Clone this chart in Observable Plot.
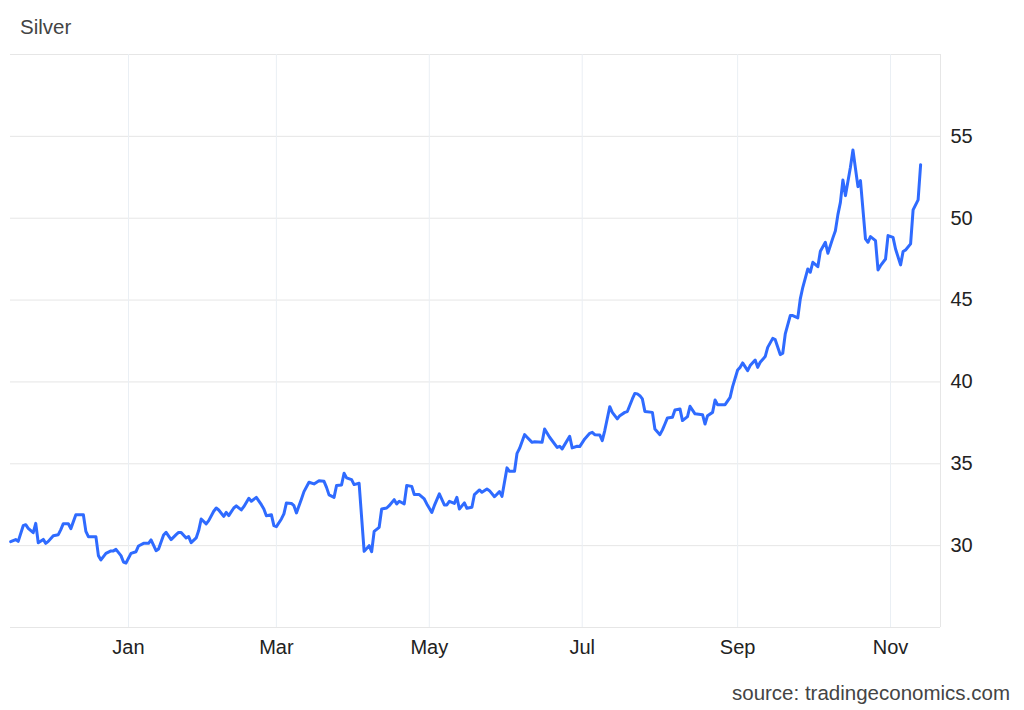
<!DOCTYPE html>
<html>
<head>
<meta charset="utf-8">
<script src="https://cdn.jsdelivr.net/npm/d3@7"></script>
<script src="https://cdn.jsdelivr.net/npm/@observablehq/plot@0.6"></script>
<style>
  html, body { margin: 0; padding: 0; background: #fff; }
  #wrap { position: relative; width: 1024px; height: 710px; font-family: "Liberation Sans", Arial, sans-serif; }
  #title { position: absolute; left: 20px; top: 15px; font-size: 20.5px; color: #444; }
  #plot { position: absolute; left: 0; top: 44px; }
  #source { position: absolute; right: 14px; top: 681px; font-size: 20.5px; color: #444; }
</style>
</head>
<body>
<div id="wrap">
  <div id="title">Silver</div>
  <div id="plot"></div>
  <div id="source">source: tradingeconomics.com</div>
</div>
<script>
const dates = [
"2024-11-15","2024-11-17","2024-11-18","2024-11-20","2024-11-21","2024-11-22","2024-11-24","2024-11-25","2024-11-26","2024-11-28","2024-11-29","2024-11-30",
"2024-12-02","2024-12-04","2024-12-05","2024-12-06","2024-12-08","2024-12-09","2024-12-11","2024-12-14","2024-12-15","2024-12-16","2024-12-19","2024-12-20","2024-12-21","2024-12-23","2024-12-25","2024-12-26","2024-12-27","2024-12-29","2024-12-30","2024-12-31",
"2025-01-02","2025-01-04","2025-01-05","2025-01-07","2025-01-09","2025-01-10","2025-01-12","2025-01-13","2025-01-15","2025-01-16","2025-01-18","2025-01-20","2025-01-21","2025-01-22","2025-01-24","2025-01-25","2025-01-26","2025-01-28","2025-01-29","2025-01-30",
"2025-02-01","2025-02-02","2025-02-04","2025-02-05","2025-02-06","2025-02-08","2025-02-09","2025-02-10","2025-02-12","2025-02-13","2025-02-15","2025-02-16","2025-02-18","2025-02-19","2025-02-21","2025-02-23","2025-02-24","2025-02-25","2025-02-27","2025-02-28",
"2025-03-01","2025-03-03","2025-03-04","2025-03-05","2025-03-07","2025-03-08","2025-03-09","2025-03-11","2025-03-12","2025-03-14","2025-03-16","2025-03-18","2025-03-20","2025-03-21","2025-03-22","2025-03-24","2025-03-25","2025-03-27","2025-03-28","2025-03-29","2025-03-31",
"2025-04-01","2025-04-03","2025-04-05","2025-04-07","2025-04-08","2025-04-09","2025-04-11","2025-04-12","2025-04-14","2025-04-15","2025-04-17","2025-04-18","2025-04-19","2025-04-21","2025-04-22","2025-04-24","2025-04-25","2025-04-27","2025-04-29","2025-04-30",
"2025-05-02","2025-05-03","2025-05-05","2025-05-07","2025-05-08","2025-05-09","2025-05-11","2025-05-12","2025-05-13","2025-05-15","2025-05-16","2025-05-18","2025-05-19","2025-05-21","2025-05-22","2025-05-24","2025-05-25","2025-05-27","2025-05-29","2025-05-30",
"2025-06-01","2025-06-02","2025-06-04","2025-06-05","2025-06-06","2025-06-08","2025-06-09","2025-06-11","2025-06-12","2025-06-15","2025-06-16","2025-06-18","2025-06-21","2025-06-22","2025-06-23","2025-06-26","2025-06-27","2025-06-29","2025-06-30",
"2025-07-02","2025-07-04","2025-07-05","2025-07-06","2025-07-08","2025-07-09","2025-07-10","2025-07-12","2025-07-13","2025-07-15","2025-07-16","2025-07-18","2025-07-19","2025-07-21","2025-07-22","2025-07-23","2025-07-24","2025-07-25","2025-07-26","2025-07-29","2025-07-30",
"2025-08-01","2025-08-02","2025-08-03","2025-08-04","2025-08-06","2025-08-07","2025-08-09","2025-08-10","2025-08-12","2025-08-13","2025-08-15","2025-08-18","2025-08-19","2025-08-20","2025-08-22","2025-08-23","2025-08-24","2025-08-27","2025-08-29","2025-08-30",
"2025-09-01","2025-09-02","2025-09-03","2025-09-05","2025-09-06","2025-09-08","2025-09-09","2025-09-10","2025-09-12","2025-09-13","2025-09-15","2025-09-16","2025-09-18","2025-09-19","2025-09-20","2025-09-22","2025-09-23","2025-09-25","2025-09-26","2025-09-27","2025-09-29","2025-09-30",
"2025-10-01","2025-10-03","2025-10-04","2025-10-06","2025-10-07","2025-10-09","2025-10-10","2025-10-11","2025-10-12","2025-10-13","2025-10-14","2025-10-16","2025-10-17","2025-10-19","2025-10-20","2025-10-22","2025-10-23","2025-10-24","2025-10-26","2025-10-27","2025-10-28","2025-10-30","2025-10-31",
"2025-11-02","2025-11-03","2025-11-05","2025-11-06","2025-11-07","2025-11-09","2025-11-10","2025-11-12","2025-11-13"
];
const prices = [
30.24,30.37,30.26,31.22,31.28,31.06,30.79,31.36,30.18,30.38,30.14,30.26,
30.61,30.67,30.98,31.34,31.34,31.04,31.89,31.89,30.87,30.55,30.55,29.39,29.13,29.53,29.68,29.68,29.77,29.39,29.00,28.94,
29.53,29.63,29.98,30.14,30.14,30.35,29.69,29.80,30.65,30.81,30.37,30.67,30.81,30.81,30.47,30.55,30.18,30.47,30.92,31.63,
31.33,31.53,32.10,32.30,32.18,31.79,32.03,31.83,32.30,32.43,32.18,32.38,32.89,32.71,32.95,32.50,32.24,31.83,31.89,31.22,
31.16,31.63,31.94,32.61,32.58,32.44,32.00,32.85,33.30,33.87,33.77,33.97,33.93,33.56,33.10,32.95,33.67,33.71,34.42,34.14,34.03,
33.73,33.81,29.65,30.00,29.63,30.87,31.12,32.24,32.30,32.44,32.81,32.55,32.71,32.55,33.67,33.62,33.12,33.12,32.85,32.55,
32.03,32.44,33.16,32.49,32.49,32.71,32.58,32.95,32.24,32.61,32.28,32.34,33.12,33.40,33.26,33.46,33.36,32.99,33.30,33.01,
34.75,34.54,34.54,35.64,35.94,36.78,36.62,36.31,36.35,36.31,37.13,36.62,36.00,36.07,35.91,36.68,35.97,36.07,36.05,
36.52,36.86,36.92,36.78,36.76,36.41,37.03,38.49,38.14,37.74,37.94,38.14,38.19,38.96,39.30,39.27,39.16,38.96,38.20,38.14,37.13,
36.78,37.07,37.43,37.80,37.84,38.29,38.35,37.64,37.88,38.51,38.05,38.00,37.43,37.94,38.14,38.90,38.61,38.61,39.06,39.71,
40.73,40.89,41.16,40.69,41.00,41.34,40.89,41.20,41.55,42.11,42.66,42.58,41.67,41.75,42.93,44.05,44.05,43.91,45.07,45.78,46.90,46.70,
47.31,47.04,47.98,48.53,47.86,48.80,49.24,50.22,50.97,52.34,51.38,53.11,54.17,51.93,52.30,48.74,48.53,48.88,48.63,46.84,47.10,47.51,48.94,
48.83,48.12,47.15,47.96,48.06,48.43,50.51,51.12,53.27
];
const xTickDates = ["2025-01-01","2025-03-01","2025-05-01","2025-07-01","2025-09-01","2025-11-01"];
const yTickLabels = [30, 35, 40, 45, 50, 55];
const yGridValues = [25, 30, 35, 40, 45, 50, 55, 60];

const data = dates.map((d, i) => ({date: new Date(d), price: prices[i]}));
const xTicks = xTickDates.map(d => new Date(d));
const xStart = new Date("2024-11-14T22:19:00Z");
const xEnd = new Date("2025-11-20T22:19:00Z");

const chart = Plot.plot({
  width: 1024,
  height: 620,
  marginTop: 10,
  marginBottom: 37,
  marginLeft: 10,
  marginRight: 84,
  style: {fontFamily: "'Liberation Sans', Arial, sans-serif", fontSize: "20px", color: "#222", background: "#fff", overflow: "visible"},
  x: {type: "utc", domain: [xStart, xEnd]},
  y: {domain: [25, 60]},
  marks: [
    Plot.ruleY(yGridValues, {stroke: "#e6e6e6", strokeWidth: 1}),
    Plot.ruleX(xTicks, {stroke: "#eaeff4", strokeWidth: 1}),
    Plot.ruleX([xEnd], {stroke: "#e6e6e6", strokeWidth: 1}),
    Plot.axisY(yTickLabels, {anchor: "right", tickSize: 0, tickPadding: 10, label: null, fill: "#222"}),
    Plot.axisX(xTicks, {anchor: "bottom", tickSize: 0, tickPadding: 12, tickFormat: "%b", label: null, fill: "#222"}),
    Plot.line(data, {x: "date", y: "price", stroke: "#2f6bff", strokeWidth: 3, strokeLinejoin: "round", strokeLinecap: "round"})
  ]
});
document.getElementById("plot").appendChild(chart);
</script>
</body>
</html>
